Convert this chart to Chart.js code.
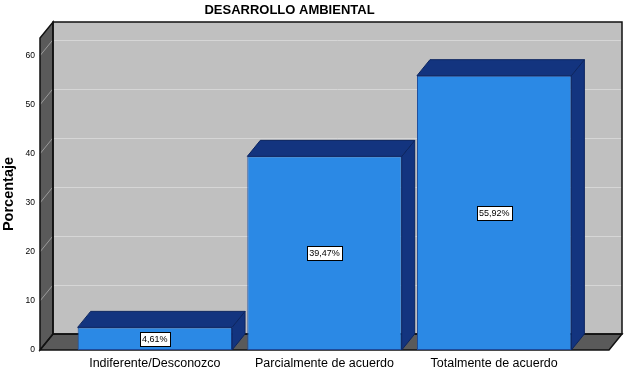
<!DOCTYPE html>
<html><head><meta charset="utf-8">
<script src="https://cdn.jsdelivr.net/npm/chart.js@4/dist/chart.umd.min.js"></script>
<style>html,body{margin:0;padding:0;background:#fff;}#wrap{width:626px;height:372px;}</style>
</head><body>
<div id="wrap"><canvas id="c" width="626" height="372"></canvas></div>
<script>
const categories = ['Indiferente/Desconozco', 'Parcialmente de acuerdo', 'Totalmente de acuerdo'];
const percentages = [4.61, 39.47, 55.92];
const valueLabels = ['4,61%', '39,47%', '55,92%'];
const yTickValues = [0, 10, 20, 30, 40, 50, 60];
const chartTitle = 'DESARROLLO AMBIENTAL';
const yAxisTitle = 'Porcentaje';

const DX = 13, DY = 16, SIDE = 30;
const FONT = "'Liberation Sans', Arial, sans-serif";
const FRONT_BLUE = '#2b89e5';
const DARK_BLUE = '#13347f';

function poly(ctx, pts, fill, stroke) {
  ctx.beginPath();
  ctx.moveTo(pts[0][0], pts[0][1]);
  for (let i = 1; i < pts.length; i++) ctx.lineTo(pts[i][0], pts[i][1]);
  ctx.closePath();
  if (fill) { ctx.fillStyle = fill; ctx.fill(); }
  if (stroke) { ctx.strokeStyle = stroke; ctx.stroke(); }
}

const box3d = {
  id: 'box3d',
  beforeDatasetsDraw(chart) {
    const {ctx, chartArea: ca, scales: {y}} = chart;
    const FL = ca.left - SIDE, FR = ca.right + SIDE, FB = y.getPixelForValue(0), FT = ca.top;
    const BL = FL + DX, BR = FR + DX, BB = FB - DY, BT = FT - DY;
    ctx.save();
    ctx.lineWidth = 1;
    // back wall
    ctx.fillStyle = '#c0c0c0';
    ctx.fillRect(BL, BT, BR - BL, BB - BT);
    // grid on back wall
    y.ticks.forEach(t => {
      if (t.value <= 0) return;
      const yb = Math.round(y.getPixelForValue(t.value) - DY) + 0.5;
      ctx.strokeStyle = '#d6d6d6';
      ctx.beginPath(); ctx.moveTo(BL, yb); ctx.lineTo(BR, yb); ctx.stroke();
    });
    // side wall
    poly(ctx, [[FL, FB], [FL, FT], [BL, BT], [BL, BB]], '#5a5a5a');
    // floor
    poly(ctx, [[FL, FB], [FR, FB], [BR, BB], [BL, BB]], '#5a5a5a');
    // diagonals on side wall
    y.ticks.forEach(t => {
      const yf = y.getPixelForValue(t.value);
      ctx.strokeStyle = '#9a9a9a';
      ctx.beginPath(); ctx.moveTo(FL, yf); ctx.lineTo(BL, yf - DY); ctx.stroke();
    });
    // outlines
    ctx.lineWidth = 1.5;
    ctx.strokeStyle = '#111';
    ctx.strokeRect(BL, BT, BR - BL, BB - BT);
    poly(ctx, [[FL, FB], [FL, FT], [BL, BT], [BL, BB]], null, '#111');
    poly(ctx, [[FL, FB], [FR, FB], [BR, BB], [BL, BB]], null, '#111');
    ctx.restore();
  },
  afterDatasetsDraw(chart) {
    const {ctx} = chart;
    const meta = chart.getDatasetMeta(0);
    ctx.save();
    ctx.lineWidth = 1;
    meta.data.forEach((bar, i) => {
      const {x, y, base, width} = bar.getProps(['x', 'y', 'base', 'width'], true);
      const l = x - width / 2, r = x + width / 2;
      poly(ctx, [[r, y], [r + DX, y - DY], [r + DX, base - DY], [r, base]], DARK_BLUE, '#0c2560');
      poly(ctx, [[l, y], [l + DX, y - DY], [r + DX, y - DY], [r, y]], DARK_BLUE, '#0c2560');
      // value label
      const txt = valueLabels[i];
      ctx.font = '9px ' + FONT;
      const tw = ctx.measureText(txt).width;
      const cy = Math.round((y + base) / 2);
      const bw = Math.round(tw + 4), bh = 14;
      const bx = Math.round(x - bw / 2) + 0.5, by = cy - bh / 2 + 0.5;
      ctx.fillStyle = '#fff';
      ctx.fillRect(bx, by, bw, bh);
      ctx.strokeStyle = '#000';
      ctx.strokeRect(bx, by, bw, bh);
      ctx.fillStyle = '#000';
      ctx.textAlign = 'center';
      ctx.textBaseline = 'middle';
      ctx.fillText(txt, x, cy + 1);
    });
    ctx.restore();
  }
};

new Chart(document.getElementById('c'), {
  type: 'bar',
  data: {
    labels: categories,
    datasets: [{
      data: percentages,
      backgroundColor: FRONT_BLUE,
      borderColor: '#1d4a9a',
      borderWidth: 1,
      borderSkipped: false,
      categoryPercentage: 1,
      barPercentage: 0.91
    }]
  },
  options: {
    responsive: false,
    devicePixelRatio: 1,
    animation: false,
    layout: {padding: {left: 0, right: 47, top: 0, bottom: 0}},
    plugins: {
      legend: {display: false},
      tooltip: {enabled: false},
      title: {
        display: true,
        text: chartTitle,
        color: '#000',
        font: {family: FONT, size: 13, weight: 'bold'},
        padding: {top: 3, bottom: 19.4}
      }
    },
    scales: {
      x: {
        grid: {display: false, drawTicks: false},
        border: {display: false},
        ticks: {color: '#000', font: {family: FONT, size: 12.5}, padding: 6, maxRotation: 0, autoSkip: false},
        afterFit(s) { s.height = 22; s.paddingLeft = 0; s.paddingRight = 0; }
      },
      y: {
        min: 0,
        max: 63.6,
        grid: {display: false, drawTicks: false},
        border: {display: false},
        afterBuildTicks(s) { s.ticks = yTickValues.map(v => ({value: v})); },
        ticks: {color: '#000', font: {family: FONT, size: 8.5}, padding: 35},
        title: {display: true, text: yAxisTitle, color: '#000', font: {family: FONT, size: 14.5, weight: 'bold'}, padding: {top: 0, bottom: 0}},
        afterFit(s) { s.width = 70; s.paddingTop = 0; s.paddingBottom = 0; }
      }
    }
  },
  plugins: [box3d]
});
</script>
</body></html>
